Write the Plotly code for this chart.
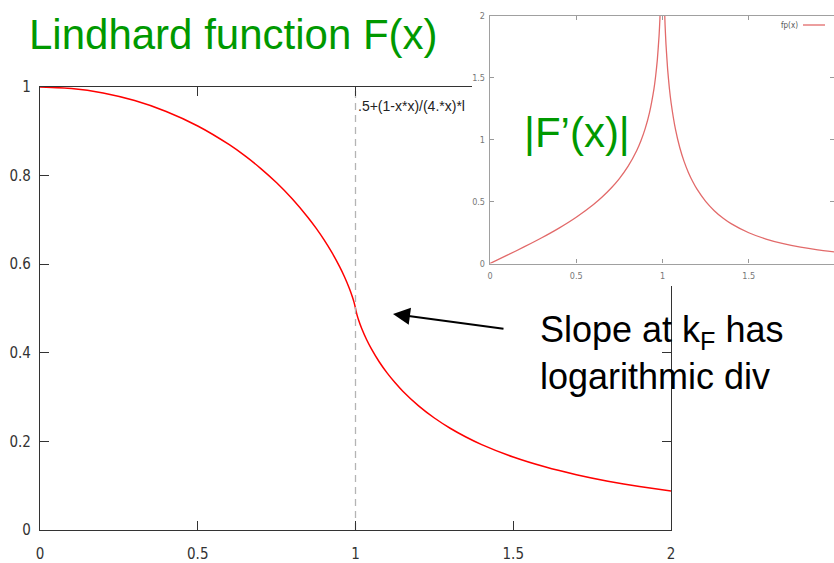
import plotly.graph_objects as go

W, H = 834, 563

# Main curve: Lindhard function F(x)
x_main = [0.0, 0.1, 0.2, 0.3, 0.4, 0.5, 0.6, 0.65, 0.7, 0.75, 0.8, 0.85, 0.875, 0.9, 0.925, 0.95, 0.965,
          0.98, 0.99, 0.995, 0.999, 1.0, 1.001, 1.005, 1.01, 1.02, 1.035, 1.05, 1.075, 1.1, 1.125, 1.15,
          1.2, 1.25, 1.3, 1.35, 1.4, 1.5, 1.6, 1.7, 1.8, 1.9, 2.0]
F_main = [1.0, 0.9967, 0.9866, 0.9694, 0.9448, 0.9120, 0.8697, 0.8444, 0.8159, 0.7838, 0.7472, 0.7050,
          0.6813, 0.6554, 0.6266, 0.5940, 0.5718, 0.5464, 0.5266, 0.5150, 0.5038, 0.5, 0.4962, 0.4851,
          0.4736, 0.4543, 0.4301, 0.4094, 0.3798, 0.3547, 0.3328, 0.3133, 0.2802, 0.2528, 0.2297, 0.2100,
          0.1928, 0.1647, 0.1426, 0.1248, 0.1102, 0.0982, 0.0880]

# Inset curve: |F'(x)|
x_ins = [0.0, 0.1, 0.2, 0.3, 0.4, 0.5, 0.6, 0.65, 0.7, 0.75, 0.8, 0.85, 0.875, 0.9, 0.925, 0.95, 0.96,
         0.97, 0.98, 0.985, 0.99, 0.995, 1.005, 1.01, 1.015, 1.02, 1.03, 1.04, 1.05, 1.075, 1.1, 1.125,
         1.15, 1.175, 1.2, 1.25, 1.3, 1.35, 1.4, 1.5, 1.6, 1.7, 1.8, 1.9, 2.0]
dF_ins = [0.0, 0.0669, 0.1355, 0.2077, 0.2857, 0.3733, 0.4759, 0.5359, 0.6044, 0.6847, 0.7826, 0.9092,
          0.9898, 1.0893, 1.2190, 1.4044, 1.5078, 1.6425, 1.8347, 1.9725, 2.1685, 2.5071, 2.4846, 2.1305,
          1.9216, 1.7726, 1.5614, 1.4110, 1.2943, 1.0832, 0.9356, 0.8235, 0.7342, 0.6608, 0.5991, 0.5009,
          0.4259, 0.3669, 0.3193, 0.2479, 0.1973, 0.1601, 0.1321, 0.1104, 0.0932]

kF = 1.0
main_xticks = [0, 0.5, 1, 1.5, 2]
main_xtext = ["0", "0.5", "1", "1.5", "2"]
main_yticks = [0, 0.2, 0.4, 0.6, 0.8, 1]
main_ytext = ["0", "0.2", "0.4", "0.6", "0.8", "1"]
ins_xticks = [0, 0.5, 1, 1.5]
ins_xtext = ["0", "0.5", "1", "1.5"]
ins_yticks = [0, 0.5, 1, 1.5, 2]
ins_ytext = ["0", "0.5", "1", "1.5", "2"]

title_text = "Lindhard function F(x)"
inset_title = "|F\u2019(x)|"
key_text = ".5+(1-x*x)/(4.*x)*l"
note_text = "Slope at k<sub>F</sub> has<br>logarithmic div"
legend_text = "fp(x)"

GREEN = "#009900"
NARROW = "DejaVu Sans Condensed, Liberation Sans Narrow, Arial Narrow, sans-serif"
SANS = "Liberation Sans, Arial, sans-serif"


def px(xp):
    return xp / W


def py(yp):
    return 1 - yp / H


fig = go.Figure()

fig.add_trace(go.Scatter(x=x_main, y=F_main, mode="lines", xaxis="x", yaxis="y",
                         line=dict(color="#ff0000", width=1.5, shape="spline", smoothing=0.5),
                         showlegend=False, hoverinfo="skip"))
fig.add_trace(go.Scatter(x=[kF, kF], y=[main_yticks[0], main_yticks[-1]], mode="lines", xaxis="x", yaxis="y",
                         line=dict(color="#b4b4b4", width=1.3, dash="7px,5px"),
                         showlegend=False, hoverinfo="skip"))
# white cover panel behind the inset
fig.add_trace(go.Scatter(x=[None], y=[None], mode="lines", xaxis="x2", yaxis="y2",
                         showlegend=False, hoverinfo="skip"))
# inset
fig.add_trace(go.Scatter(x=x_ins, y=dF_ins, mode="lines", xaxis="x3", yaxis="y3",
                         line=dict(color="#e26a6a", width=1.3, shape="spline", smoothing=0.5),
                         showlegend=False, hoverinfo="skip"))

axis_common = dict(showgrid=False, zeroline=False, showline=True, ticks="inside", mirror="ticks",
                   automargin=False)

fig.update_layout(
    width=W, height=H,
    margin=dict(l=0, r=0, t=0, b=0),
    paper_bgcolor="white", plot_bgcolor="white",
    showlegend=False,
    xaxis=dict(**axis_common, domain=[px(40), px(671)], range=[0, 2], anchor="y",
               tickvals=main_xticks, ticktext=main_xtext, ticklen=9, tickwidth=1.3,
               tickcolor="#333", linecolor="#333", linewidth=1.3, ticklabelstandoff=10,
               tickfont=dict(family=NARROW, size=15, color="#333")),
    yaxis=dict(**axis_common, domain=[py(530), py(87)], range=[0, 1], anchor="x",
               tickvals=main_yticks, ticktext=main_ytext, ticklen=9, tickwidth=1.3,
               tickcolor="#333", linecolor="#333", linewidth=1.3, ticklabelstandoff=5,
               tickfont=dict(family=NARROW, size=15, color="#333")),
    xaxis2=dict(domain=[px(472), 1], range=[0, 1], anchor="y2", visible=False, fixedrange=True,
                automargin=False),
    yaxis2=dict(domain=[py(286), 1], range=[0, 1], anchor="x2", visible=False, fixedrange=True,
                automargin=False),
    xaxis3=dict(**axis_common, domain=[px(490), 1], range=[0, 2 * (834 - 490) / (835 - 490)], anchor="y3",
                tickvals=ins_xticks, ticktext=ins_xtext, ticklen=4, tickwidth=1,
                tickcolor="#999", linecolor="#a0a0a0", linewidth=1.4, ticklabelstandoff=3,
                tickfont=dict(family=NARROW, size=9, color="#777")),
    yaxis3=dict(**axis_common, domain=[py(263.5), py(15.5)], range=[0, 2], anchor="x3",
                tickvals=ins_yticks, ticktext=ins_ytext, ticklen=4, tickwidth=1,
                tickcolor="#999", linecolor="#a0a0a0", linewidth=1.4, ticklabelstandoff=2,
                tickfont=dict(family=NARROW, size=9, color="#777")),
)

annotations = [
    dict(text=title_text, xref="paper", yref="paper", x=px(27), y=py(35), xanchor="left", yanchor="middle",
         showarrow=False, font=dict(family=SANS, size=42, color=GREEN)),
    dict(text=inset_title, xref="paper", yref="paper", x=px(522), y=py(133), xanchor="left", yanchor="middle",
         showarrow=False, font=dict(family=SANS, size=42, color=GREEN)),
    dict(text=key_text, xref="paper", yref="paper", x=px(356), y=py(106), xanchor="left", yanchor="middle",
         showarrow=False, font=dict(family=SANS, size=14, color="#222")),
    dict(text=note_text, xref="paper", yref="paper", x=px(538), y=py(353), xanchor="left", yanchor="middle",
         align="left", showarrow=False, font=dict(family=SANS, size=36, color="black")),
    dict(text="", xref="x", yref="y", x=(393 - 40) / 631 * 2, y=(530 - 314) / 443,
         ax=112, ay=15, axref="pixel", ayref="pixel", showarrow=True,
         arrowhead=2, arrowsize=1.7, arrowwidth=2, arrowcolor="black", standoff=0),
    dict(text=legend_text, xref="paper", yref="paper", x=px(800), y=py(25), xanchor="right", yanchor="middle",
         showarrow=False, font=dict(family=NARROW, size=8, color="#555")),
]
fig.update_layout(annotations=annotations)
fig.add_shape(type="line", xref="paper", yref="paper", x0=px(803), x1=px(825), y0=py(25), y1=py(25),
              line=dict(color="#e26a6a", width=1.3))

fig.write_html("out.html", config={"displayModeBar": False},
               post_script="document.body.style.margin='0px';document.body.style.padding='0px';")
